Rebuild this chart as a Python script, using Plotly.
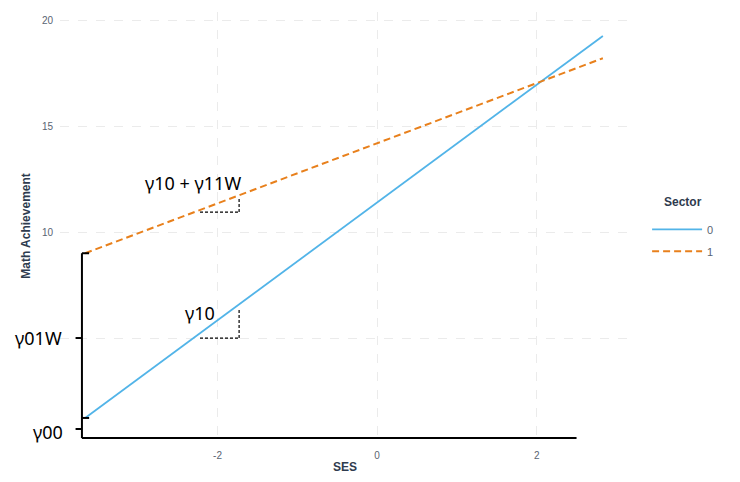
import plotly.graph_objects as go

# Fitted lines (SES vs math achievement)
ses_sector0 = [-3.66, 2.83]
math_sector0 = [1.23, 19.25]
ses_sector1 = [-3.66, 2.83]
math_sector1 = [9.0, 18.2]

sector_names = ["0", "1"]
sector_colors = ["#52B4E8", "#E8801C"]

y_tickvals = [5, 10, 15, 20]
y_ticktext = ["", "10", "15", "20"]
x_tickvals = [-2, 0, 2]
x_ticktext = ["-2", "0", "2"]

# annotation positions (data units)
bracket_x = -3.70
axis_bottom = 0.28
axis_right = 2.50
g00_tick = 0.71
g01w_tick = 5.0
tri_x0, tri_x1 = -2.22, -1.73
tri_lo = (5.0, 6.37)
tri_hi = (10.94, 11.65)

fig = go.Figure()

fig.add_trace(go.Scatter(
    x=ses_sector0, y=math_sector0, mode="lines", name=sector_names[0], legendgroup="s0",
    line=dict(color=sector_colors[0], width=1.8),
))
fig.add_trace(go.Scatter(
    x=ses_sector1, y=math_sector1, mode="lines", name=sector_names[1], legendgroup="s1",
    line=dict(color=sector_colors[1], width=2, dash="7px,4px"),
))

black = dict(color="black", width=2)
dashed = dict(color="black", width=1.2, dash="3px,2px")
shapes = [
    # bracket on the left and bottom axis
    dict(type="line", x0=bracket_x, x1=bracket_x, y0=axis_bottom, y1=math_sector1[0], line=black),
    dict(type="line", x0=bracket_x, x1=axis_right, y0=axis_bottom, y1=axis_bottom, line=black),
    dict(type="line", x0=bracket_x, x1=bracket_x + 0.09, y0=math_sector1[0], y1=math_sector1[0], line=black),
    dict(type="line", x0=bracket_x, x1=bracket_x + 0.09, y0=math_sector0[0], y1=math_sector0[0], line=black),
    dict(type="line", x0=bracket_x - 0.08, x1=bracket_x, y0=g01w_tick, y1=g01w_tick, line=black),
    dict(type="line", x0=bracket_x - 0.08, x1=bracket_x, y0=g00_tick, y1=g00_tick, line=black),
    # slope triangles
    dict(type="line", x0=tri_x0, x1=tri_x1, y0=tri_lo[0], y1=tri_lo[0], line=dashed),
    dict(type="line", x0=tri_x1, x1=tri_x1, y0=tri_lo[0], y1=tri_lo[1], line=dashed),
    dict(type="line", x0=tri_x0, x1=tri_x1, y0=tri_hi[0], y1=tri_hi[0], line=dashed),
    dict(type="line", x0=tri_x1, x1=tri_x1, y0=tri_hi[0], y1=tri_hi[1], line=dashed),
]

afont = dict(family="Noto Sans", size=18, color="black")
annotations = [
    dict(x=-2.31, y=12.3, text="γ10 + γ11W", showarrow=False, font=afont),
    dict(x=-2.22, y=6.18, text="γ10", showarrow=False, font=afont),
    dict(x=-3.93, y=g01w_tick, text="γ01W", showarrow=False, font=afont, xanchor="right"),
    dict(x=-3.91, y=0.55, text="γ00", showarrow=False, font=afont, xanchor="right"),
    # legend title
    dict(x=1.093, y=0.555, xref="paper", yref="paper", text="<b>Sector</b>", showarrow=False,
         xanchor="center", yanchor="middle",
         font=dict(family="Liberation Sans", size=12, color="#2E3B4E")),
]

grid = dict(showgrid=True, gridcolor="#EBEBEB", griddash="dash", gridwidth=1, zeroline=False,
            showline=False, automargin=False,
            tickfont=dict(family="Liberation Sans", size=10, color="#5A6472"))

fig.update_layout(
    width=740, height=482,
    margin=dict(l=60, r=110, t=12, b=42, autoexpand=False),
    paper_bgcolor="white", plot_bgcolor="white",
    shapes=shapes, annotations=annotations,
    xaxis=dict(range=[-3.975, 3.17], tickvals=x_tickvals, ticktext=x_ticktext,
               ticks="outside", ticklen=6, tickcolor="rgba(0,0,0,0)",
               title=dict(text="<b>SES</b>", standoff=2,
                          font=dict(family="Liberation Sans", size=12, color="#2E3B4E")),
               **grid),
    yaxis=dict(range=[0.19, 20.38], tickvals=y_tickvals, ticktext=y_ticktext,
               ticks="outside", ticklen=4, tickcolor="rgba(0,0,0,0)",
               title=dict(text="<b>Math Achievement</b>", standoff=8,
                          font=dict(family="Liberation Sans", size=12, color="#2E3B4E")),
               **grid),
    legend=dict(
        font=dict(family="Liberation Sans", size=11, color="#5A6472"),
        x=1.03, y=0.526, xanchor="left", yanchor="top",
        itemwidth=50, tracegroupgap=3,
    ),
)

# drop the default page margin so the 740x482 figure sits at the window's corner
fig.write_html("out.html", config={"displayModeBar": False},
               post_script="document.body.style.margin='0px';")
